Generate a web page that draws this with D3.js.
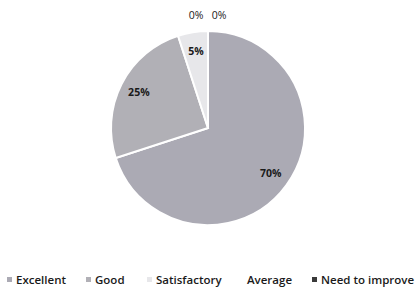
<!DOCTYPE html>
<html>
<head>
<meta charset="utf-8">
<script src="https://cdn.jsdelivr.net/npm/d3@7"></script>
<style>
body { margin: 0; background: #fff; }
text { font-family: "Open Sans", "Liberation Sans", sans-serif; fill: #1a1a1a; }
</style>
</head>
<body>
<div id="chart"></div>
<script>
// ratings
var categories = ["Excellent", "Good", "Satisfactory", "Average", "Need to improve"];
var values = [70, 25, 5, 0, 0];
var colors = ["#abaab4", "#b1b0b6", "#e7e7ea", "#ffffff", "#3a3a3a"];

var width = 418, height = 288;
var cx = 208, cy = 128, r = 97;

var svg = d3.select("#chart").append("svg")
    .attr("width", width)
    .attr("height", height);

var pie = d3.pie().sort(null).value(function (d) { return d; });
var arcs = pie(values);
var arc = d3.arc().innerRadius(0).outerRadius(r);
var labelArc = d3.arc().innerRadius(r * 0.8).outerRadius(r * 0.8);
var outerArc = d3.arc().innerRadius(r + 16).outerRadius(r + 16);

var g = svg.append("g").attr("transform", "translate(" + cx + "," + cy + ")");

g.selectAll("path")
    .data(arcs)
    .enter()
    .append("path")
    .attr("d", arc)
    .style("fill", function (d, i) { return colors[i]; })
    .style("stroke", "#fff")
    .style("stroke-width", 2);

// labels, zero slices sit above the pie side by side
var zeroCount = 0;
g.selectAll("text.lbl")
    .data(arcs)
    .enter()
    .append("text")
    .attr("class", "lbl")
    .attr("text-anchor", "middle")
    .attr("dy", "0.35em")
    .style("font-size", "10.5px")
    .style("font-weight", function (d) { return d.value > 0 ? "bold" : "normal"; })
    .attr("transform", function (d) {
        var p;
        if (d.value > 0) {
            p = labelArc.centroid(d);
        } else {
            p = outerArc.centroid(d);
            p[0] += (zeroCount++ === 0 ? -12 : 11);
        }
        return "translate(" + p[0] + "," + p[1] + ")";
    })
    .text(function (d) { return d.value + "%"; });

// legend
var legendX = [7, 86, 147, 238, 312];
var legend = svg.selectAll("g.legend")
    .data(categories)
    .enter()
    .append("g")
    .attr("class", "legend")
    .attr("transform", function (d, i) { return "translate(" + legendX[i] + ",280)"; });

legend.append("rect")
    .attr("x", 0)
    .attr("y", -3)
    .attr("width", 5)
    .attr("height", 5)
    .style("fill", function (d, i) { return colors[i]; });

legend.append("text")
    .attr("x", 9)
    .attr("dy", "0.35em")
    .style("font-size", "11.5px")
    .style("font-weight", 600)
    .text(function (d) { return d; });
</script>
</body>
</html>
